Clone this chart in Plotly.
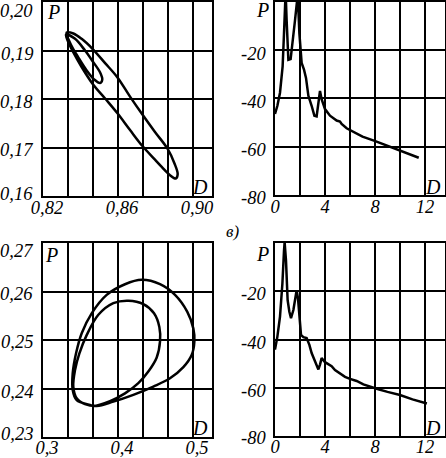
import plotly.graph_objects as go

W, H = 446, 458

# top left: period-2 loop, D vs P
LOOP1_D = [0.8326, 0.8362, 0.8406, 0.8465, 0.8531, 0.8598, 0.8664, 0.8730, 0.8797, 0.8863,
           0.8901, 0.8918, 0.8908, 0.8877, 0.8833, 0.8797, 0.8730, 0.8664, 0.8598, 0.8531,
           0.8465, 0.8406, 0.8362, 0.8332, 0.8323,
           0.8371, 0.8424, 0.8468, 0.8504, 0.8516, 0.8504, 0.8474, 0.8433, 0.8388, 0.8349, 0.8326]
LOOP1_P = [0.1937, 0.1935, 0.1924, 0.1903, 0.1874, 0.1844, 0.1805, 0.1768, 0.1732, 0.1698,
           0.1667, 0.1645, 0.1636, 0.1643, 0.1660, 0.1675, 0.1703, 0.1736, 0.1770, 0.1801,
           0.1831, 0.1866, 0.1896, 0.1920, 0.1933,
           0.1924, 0.1900, 0.1876, 0.1855, 0.1840, 0.1833, 0.1840, 0.1859, 0.1886, 0.1912, 0.1937]

# bottom left: two nested loops
LOOP2_D = [0.3627, 0.3449, 0.3396, 0.3396, 0.3440, 0.3516, 0.3649, 0.3849, 0.4093, 0.4316,
           0.4560, 0.4760, 0.4924, 0.5004, 0.5018, 0.4982, 0.4871, 0.4693, 0.4471, 0.4204,
           0.3938, 0.3716, 0.3560, 0.3449,
           0.3404, 0.3427, 0.3484, 0.3582, 0.3738, 0.3938, 0.4138, 0.4338, 0.4480, 0.4551,
           0.4560, 0.4516, 0.4404, 0.4271, 0.4093, 0.3893, 0.3671, 0.3627]
LOOP2_P = [0.2366, 0.2376, 0.2397, 0.2431, 0.2472, 0.2514, 0.2555, 0.2593, 0.2615, 0.2624,
           0.2615, 0.2593, 0.2558, 0.2524, 0.2497, 0.2469, 0.2444, 0.2421, 0.2404, 0.2387,
           0.2373, 0.2364, 0.2368, 0.2380,
           0.2404, 0.2438, 0.2472, 0.2510, 0.2552, 0.2576, 0.2581, 0.2574, 0.2555, 0.2527,
           0.2497, 0.2464, 0.2435, 0.2411, 0.2390, 0.2374, 0.2364, 0.2366]

# top right: spectrum
SPEC1_D = [0, 0.19, 0.40, 0.61, 0.72, 0.85, 0.93, 1.07, 1.25, 1.41, 1.60, 1.82, 1.95, 2.13,
           2.32, 2.48, 2.67, 2.93, 3.15, 3.33, 3.47, 3.60, 3.73, 4.0, 4.4, 4.93, 5.2, 5.33,
           5.73, 6.27, 7.0, 7.97, 9.0, 9.97, 11.5]
SPEC1_P = [-46.5, -43.1, -37.7, -26.8, -13.2, 4, -7.8, -24.1, -23.8, -17.3, -7.8, 3, -13.2, -25.4,
           -28.2, -31.6, -39, -43.1, -47.2, -47.5, -41.8, -37, -40.4, -44.5, -47.2, -49.2, -49.6, -50.6,
           -52.4, -54, -55.9, -57.6, -59.6, -61.5, -64.6]

# bottom right: spectrum
SPEC2_D = [0, 0.19, 0.40, 0.59, 0.72, 0.77, 0.88, 1.01, 1.15, 1.28, 1.47, 1.65, 1.73, 1.84,
           1.95, 2.08, 2.27, 2.53, 2.75, 2.93, 3.2, 3.47, 3.6, 3.73, 4.0, 4.35, 4.53, 4.8,
           5.2, 5.6, 6.0, 6.53, 7.07, 7.6, 8.13, 9.0, 10.0, 11.0, 12.15]
SPEC2_P = [-44.2, -38.8, -30.5, -16.9, -3.2, 0.3, -7.3, -23.7, -28.5, -31.2, -27.8, -22.3, -19.6, -23,
           -31.9, -38.1, -39, -39.4, -42.2, -45.6, -49, -52.4, -50.4, -47.7, -49.4, -50.4, -51.1, -52.7,
           -54.2, -55.5, -56.3, -57.2, -58.6, -59.6, -60.4, -61.7, -63.0, -64.8, -66.5]

X1_TICKS = [0.82, 0.8333, 0.8467, 0.86, 0.8733, 0.8867, 0.90]
X1_TEXT = ['0,82', '', '', '0,86', '', '', '0,90']
Y1_TICKS = [0.16, 0.17, 0.18, 0.19, 0.20]
Y1_TEXT = ['0,16', '0,17', '0,18', '0,19', '0,20']

X3_TICKS = [0.3, 0.3333, 0.3667, 0.4, 0.4333, 0.4667, 0.5]
X3_TEXT = ['0,3', '', '', '0,4', '', '', '0,5']
Y3_TICKS = [0.23, 0.24, 0.25, 0.26, 0.27]
Y3_TEXT = ['0,23', '0,24', '0,25', '0,26', '0,27']

XS_TICKS = [0, 2, 4, 6, 8, 10, 12]
XS_TEXT = ['0', '', '4', '', '8', '', '12']
YS_TICKS = [-80, -60, -40, -20]
YS_TEXT = ['-80', '-60', '-40', '-20']

FONT = dict(family='Liberation Serif', size=18.5, color='black', style='italic')


def dom(x0, x1, y0, y1):
    # pixel box -> paper domains
    return [x0 / W, x1 / W], [1 - y1 / H, 1 - y0 / H]


def axis(domain, rng, tickvals, ticktext, anchor, **kw):
    d = dict(
        domain=domain, range=rng, anchor=anchor, automargin=False,
        tickvals=tickvals, ticktext=ticktext, tickfont=FONT, ticklabeloverflow='allow',
        showline=True, mirror=True, linecolor='black', linewidth=2,
        showgrid=True, gridcolor='black', gridwidth=1.5,
        zeroline=False, ticks='', fixedrange=True,
    )
    d.update(kw)
    return d


fig = go.Figure()
line = dict(color='black', width=2.5)
fig.add_trace(go.Scatter(x=LOOP1_D, y=LOOP1_P, mode='lines', line=dict(line, shape='spline'),
                         xaxis='x', yaxis='y'))
fig.add_trace(go.Scatter(x=SPEC1_D, y=SPEC1_P, mode='lines', line=line, xaxis='x2', yaxis='y2'))
fig.add_trace(go.Scatter(x=LOOP2_D, y=LOOP2_P, mode='lines', line=dict(line, shape='spline'),
                         xaxis='x3', yaxis='y3'))
fig.add_trace(go.Scatter(x=SPEC2_D, y=SPEC2_P, mode='lines', line=line, xaxis='x4', yaxis='y4'))

d1x, d1y = dom(43, 212, 2, 196)
d2x, d2y = dom(275, 445, 1.5, 195)
d3x, d3y = dom(43, 212, 243, 437)
d4x, d4y = dom(275, 445, 243, 436)

fig.update_layout(
    template='none',
    width=W, height=H,
    margin=dict(l=0, r=0, t=0, b=0),
    paper_bgcolor='white', plot_bgcolor='white',
    showlegend=False,
    xaxis=axis(d1x, [0.82, 0.9101], X1_TICKS, X1_TEXT, 'y', ticklabelstandoff=-6, ticklabelshift=4),
    yaxis=axis(d1y, [0.16, 0.20], Y1_TICKS, Y1_TEXT, 'x', showticklabels=False),
    xaxis2=axis(d2x, [0, 13.6], XS_TICKS, XS_TEXT, 'y2', ticklabelstandoff=-6),
    yaxis2=axis(d2y, [-80, 0], YS_TICKS, YS_TEXT, 'x2', showticklabels=False),
    xaxis3=axis(d3x, [0.3, 0.5253], X3_TICKS, X3_TEXT, 'y3', ticklabelstandoff=-7, ticklabelshift=4),
    yaxis3=axis(d3y, [0.23, 0.27], Y3_TICKS, Y3_TEXT, 'x3', showticklabels=False),
    xaxis4=axis(d4x, [0, 13.6], XS_TICKS, XS_TEXT, 'y4', ticklabelstandoff=-7),
    yaxis4=axis(d4y, [-80, 0], YS_TICKS, YS_TEXT, 'x4', showticklabels=False),
)

# y tick labels as text, the end ones pulled inwards like in the print
for xa, ya, vals, texts, gap, shifts in [
        ('x', 'y', Y1_TICKS, Y1_TEXT, 8, [2, -2.5, -2.5, -3, -9]),
        ('x2', 'y2', YS_TICKS, YS_TEXT, 7, [-2.5, -3.5, -3.5, -4]),
        ('x3', 'y3', Y3_TICKS, Y3_TEXT, 8, [3, -3, -2, -2.5, -8.5]),
        ('x4', 'y4', YS_TICKS, YS_TEXT, 7, [-1.5, -3.5, -3.5, -3])]:
    for v, t, s in zip(vals, texts, shifts):
        fig.add_annotation(x=0, y=v, xref=xa + ' domain', yref=ya, text=t, showarrow=False,
                           xanchor='right', yanchor='middle', xshift=-gap, yshift=s, font=FONT)

# axis letters inside each panel
lab = dict(family='Liberation Serif', size=20, color='black', style='italic')
for xa, ya, px, py in [('x', 'y', 0.06, 0.95), ('x2', 'y2', -0.076, 0.956),
                       ('x3', 'y3', 0.053, 0.938), ('x4', 'y4', -0.076, 0.943)]:
    fig.add_annotation(x=px, y=py, xref=xa + ' domain', yref=ya + ' domain', text='P',
                       showarrow=False, font=lab, xanchor='center', yanchor='middle')
for xa, ya, py in [('x', 'y', 0.046), ('x2', 'y2', 0.04), ('x3', 'y3', 0.046), ('x4', 'y4', 0.041)]:
    fig.add_annotation(x=0.93, y=py, xref=xa + ' domain', yref=ya + ' domain', text='D',
                       showarrow=False, font=lab, xanchor='center', yanchor='middle')

fig.add_annotation(x=233 / W, y=1 - 231 / H, xref='paper', yref='paper', text='в)',
                   showarrow=False, xanchor='center', yanchor='middle',
                   font=dict(family='Liberation Serif', size=17, color='black', style='italic'))

# page body margin would push the figure off the window
fig.write_html('out.html', config={'displayModeBar': False},
               post_script="document.body.style.margin='0';")
